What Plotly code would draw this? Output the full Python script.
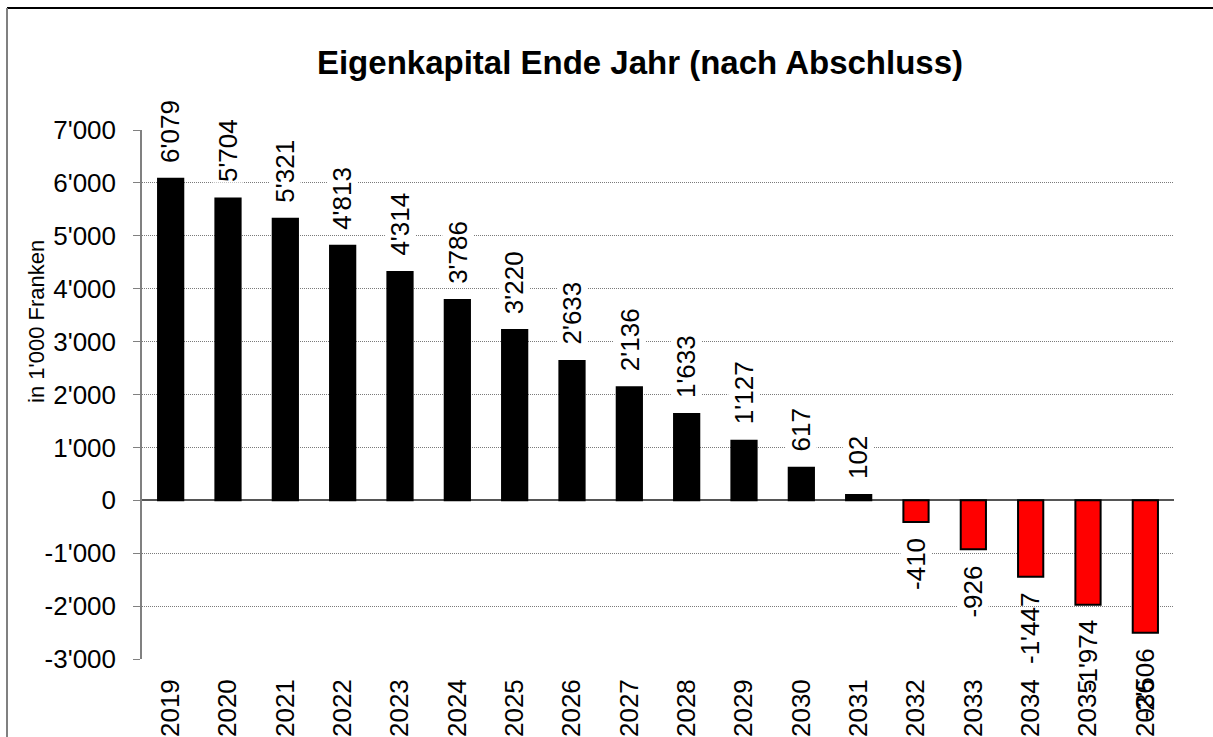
import plotly.graph_objects as go

years = [str(y) for y in range(2019, 2037)]
equity = [6079, 5704, 5321, 4813, 4314, 3786, 3220, 2633, 2136, 1633, 1127, 617, 102,
          -410, -926, -1447, -1974, -2506]
y_tickvals = [-3000, -2000, -1000, 0, 1000, 2000, 3000, 4000, 5000, 6000, 7000]
y_ticktext = ["-3'000", "-2'000", "-1'000", "0", "1'000", "2'000", "3'000",
              "4'000", "5'000", "6'000", "7'000"]

title_text = "Eigenkapital Ende Jahr (nach Abschluss)"
y_title = "in 1'000 Franken"


def fmt(v):
    s = f"{abs(v):,}".replace(",", "'")
    return ("-" + s) if v < 0 else s


W, H = 1213, 737
L, R, T, B = 142, 39, 130, 78
pw, ph = W - L - R, H - T - B
Y0, Y1 = -3000, 7000

FONT = "Liberation Sans, Arial, sans-serif"
NUM_SIZE = 26
SHIFT = 15

colors = ["#000000" if v >= 0 else "#FF0000" for v in equity]

fig = go.Figure()
fig.add_trace(go.Bar(
    x=years, y=equity,
    marker=dict(color=colors, line=dict(color="#000000", width=2)),
    showlegend=False,
))

annotations = []
for i, v in enumerate(equity):
    txt = fmt(v)
    # label extent in px (approx.), used only to decide whether the label
    # runs into the category labels below the plot (then no white box)
    label_len = 0.55 * NUM_SIZE * len(txt)
    bar_px = (Y1 - v) / (Y1 - Y0) * ph
    fits = v >= 0 or (bar_px + SHIFT + label_len) <= ph
    annotations.append(dict(
        x=i, y=v, xref="x", yref="y",
        text=txt, textangle=-90, showarrow=False,
        xanchor="center",
        yanchor="bottom" if v >= 0 else "top",
        yshift=SHIFT if v >= 0 else -SHIFT,
        bgcolor="white" if fits else "rgba(0,0,0,0)", borderpad=0,
        font=dict(family=FONT, size=NUM_SIZE, color="#000000"),
    ))

annotations.append(dict(
    x=(36 - L) / pw, y=(H - B - 322) / ph, xref="paper", yref="paper",
    text=y_title, textangle=-90, showarrow=False,
    xanchor="center", yanchor="middle",
    font=dict(family=FONT, size=22, color="#000000"),
))

shapes = [
    dict(type="line", xref="paper", yref="paper",
         x0=(7 - L) / pw, x1=(W + 20 - L) / pw,
         y0=(H - B - 8) / ph, y1=(H - B - 8) / ph,
         line=dict(color="#000000", width=2)),
    dict(type="line", xref="paper", yref="paper",
         x0=(7 - L) / pw, x1=(7 - L) / pw,
         y0=(H - B - 8) / ph, y1=(H - B - 760) / ph,
         line=dict(color="#808080", width=2)),
]

fig.update_layout(
    width=W, height=H,
    margin=dict(l=L, r=R, t=T, b=B, autoexpand=False),
    paper_bgcolor="white", plot_bgcolor="white",
    bargap=0.56,
    font=dict(family=FONT, color="#000000"),
    title=dict(text="<b>" + title_text + "</b>", x=640 / W, xanchor="center",
               y=1 - 62 / H, yanchor="middle", xref="container", yref="container",
               font=dict(family=FONT, size=33, color="#000000")),
    annotations=annotations,
    shapes=shapes,
)

fig.update_xaxes(
    type="category", range=[-0.5, len(years) - 0.5],
    tickangle=-90, showline=False, showgrid=False,
    ticks="", tickfont=dict(family=FONT, size=NUM_SIZE, color="#000000"),
    ticklabelstandoff=14, automargin=False,
)
fig.update_yaxes(
    range=[Y0, Y1], tickvals=y_tickvals, ticktext=y_ticktext,
    showline=True, linecolor="#808080", linewidth=1.5,
    ticks="outside", ticklen=7, tickcolor="#808080", tickwidth=1,
    showgrid=True, gridcolor="#7a7a7a", gridwidth=1, griddash="1px,1px",
    zeroline=True, zerolinecolor="#555555", zerolinewidth=1.5,
    tickfont=dict(family=FONT, size=NUM_SIZE, color="#000000"),
    ticklabelstandoff=12, automargin=False,
)

fig.write_html("out.html", config={"displayModeBar": False},
               post_script="document.body.style.margin='0';")
